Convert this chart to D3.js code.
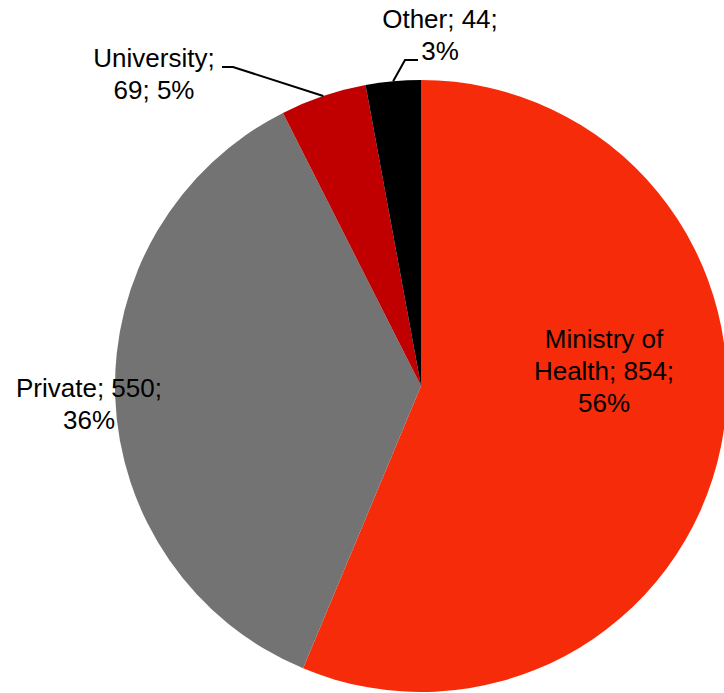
<!DOCTYPE html>
<html>
<head>
<meta charset="utf-8">
<script src="https://cdn.jsdelivr.net/npm/d3@7"></script>
<style>
  body { margin: 0; background: #fff; }
  text { font-family: "Liberation Sans", Arial, sans-serif; fill: #000; }
</style>
</head>
<body>
<div id="chart"></div>
<script>
// Chart data
var categories = ["Ministry of Health", "Private", "University", "Other"];
var values = [854, 550, 69, 44];
var colors = ["#F52B0A", "#737373", "#C00000", "#000000"];

var width = 724;
var height = 693;
var cx = 421, cy = 386, radius = 306;

var svg = d3.select("#chart")
  .append("svg")
  .attr("width", width)
  .attr("height", height);

var total = d3.sum(values);

var pie = d3.pie()
  .sort(null)
  .value(function (d) { return d; });

var arcs = pie(values);

var arc = d3.arc()
  .innerRadius(0)
  .outerRadius(radius);

var g = svg.append("g")
  .attr("transform", "translate(" + cx + "," + cy + ")");

// Slices
g.selectAll("path.slice")
  .data(arcs)
  .enter().append("path")
  .attr("class", "slice")
  .attr("d", arc)
  .attr("fill", function (d, i) { return colors[i]; });

// Label placement (line centres and first baseline, relative to page)
var labelLayout = [
  { x: [604, 604, 604], y: 348, leader: null },
  { x: [89, 89], y: 397, leader: null },
  { x: [154, 154], y: 67, leader: [[233, 67], [222, 67]] },
  { x: [440, 440], y: 28, leader: [[405, 60], [418, 60]] }
];

function labelLines(i) {
  var pct = Math.round(values[i] / total * 100) + "%";
  var name = categories[i];
  if (i === 0) return ["Ministry of", "Health; " + values[i] + ";", pct];
  if (i === 1) return [name + "; " + values[i] + ";", pct];
  if (i === 2) return [name + ";", values[i] + "; " + pct];
  return [name + "; " + values[i] + ";", pct];
}

arcs.forEach(function (d, i) {
  var lay = labelLayout[i];
  var lines = labelLines(i);

  // Leader line from the slice edge to its label
  if (lay.leader) {
    var mid = (d.startAngle + d.endAngle) / 2;
    var start = [cx + radius * Math.sin(mid), cy - radius * Math.cos(mid)];
    svg.append("path")
      .attr("d", d3.line()([start].concat(lay.leader)))
      .attr("fill", "none")
      .attr("stroke", "#000")
      .attr("stroke-width", 2);
  }

  var t = svg.append("text")
    .attr("text-anchor", "middle")
    .style("font-size", "26px");
  lines.forEach(function (line, j) {
    t.append("tspan")
      .attr("x", lay.x[j])
      .attr("y", lay.y + j * 32)
      .text(line);
  });
});
</script>
</body>
</html>
